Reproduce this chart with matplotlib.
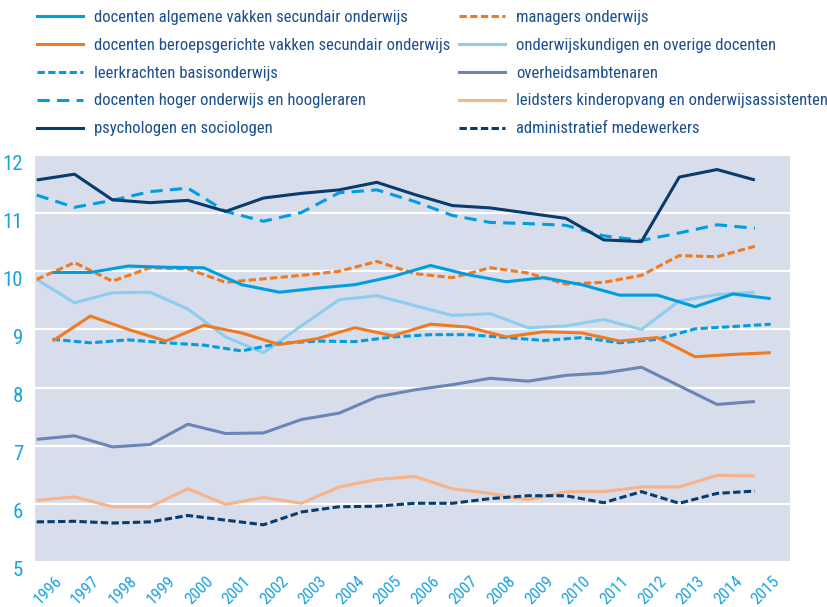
import matplotlib
matplotlib.use('Agg')
import matplotlib.pyplot as plt
from matplotlib import font_manager as fm
from matplotlib.lines import Line2D
from matplotlib.transforms import ScaledTranslation
import numpy as np


def pick_narrow_font():
    prefs = ['liberationsansnarrow', 'robotocondensed', 'opensanscondensed',
             'notosans-condensed', 'notosanscondensed', 'dejavusanscondensed']
    found = {}
    for f in fm.fontManager.ttflist:
        fn = f.fname.lower().replace('_', '').replace(' ', '')
        base = fn.split('/')[-1]
        if any(k in base for k in ('bold', 'italic', 'oblique', 'light', 'thin', 'medium', 'black', 'semi', 'extra')):
            continue
        for p in prefs:
            if p in base:
                found.setdefault(p, f.fname)
    for p in prefs:
        if p in found:
            return fm.FontProperties(fname=found[p])
    return fm.FontProperties(family='DejaVu Sans', stretch='condensed')


FP = pick_narrow_font()

years = list(range(1996, 2016))
year_labels = [str(y) for y in years]
y_ticks = [5, 6, 7, 8, 9, 10, 11, 12]

labels = [
    'docenten algemene vakken secundair onderwijs',
    'docenten beroepsgerichte vakken secundair onderwijs',
    'leerkrachten basisonderwijs',
    'docenten hoger onderwijs en hoogleraren',
    'psychologen en sociologen',
    'managers onderwijs',
    'onderwijskundigen en overige docenten',
    'overheidsambtenaren',
    'leidsters kinderopvang en onderwijsassistenten',
    'administratief medewerkers',
]

algemene = [9.98, 9.98, 10.09, 10.07, 10.06, 9.77, 9.64, 9.71, 9.77, 9.91,
            10.10, 9.94, 9.82, 9.89, 9.77, 9.59, 9.59, 9.39, 9.61, 9.53]
beroeps = [8.80, 9.23, 9.00, 8.80, 9.07, 8.94, 8.74, 8.84, 9.03, 8.89,
           9.09, 9.04, 8.87, 8.96, 8.94, 8.80, 8.86, 8.53, 8.57, 8.60]
leerkrachten = [8.83, 8.77, 8.82, 8.77, 8.73, 8.63, 8.76, 8.80, 8.79, 8.87,
                8.91, 8.91, 8.86, 8.81, 8.86, 8.77, 8.83, 9.01, 9.05, 9.09]
hoger = [11.31, 11.10, 11.22, 11.37, 11.43, 11.03, 10.86, 11.01, 11.35, 11.40,
         11.20, 10.96, 10.84, 10.82, 10.79, 10.61, 10.53, 10.66, 10.80, 10.74]
psychologen = [11.57, 11.67, 11.23, 11.18, 11.22, 11.03, 11.26, 11.34, 11.40, 11.53,
               11.32, 11.13, 11.09, 11.00, 10.91, 10.54, 10.51, 11.62, 11.75, 11.57]
managers = [9.86, 10.15, 9.83, 10.06, 10.04, 9.81, 9.87, 9.93, 10.00, 10.17,
            9.96, 9.89, 10.06, 9.97, 9.78, 9.81, 9.93, 10.27, 10.25, 10.43]
onderwijskundigen = [9.86, 9.46, 9.63, 9.64, 9.35, 8.87, 8.60, 9.06, 9.51, 9.58,
                     9.41, 9.24, 9.27, 9.03, 9.06, 9.17, 9.00, 9.49, 9.60, 9.64]
overheid = [7.11, 7.17, 6.98, 7.02, 7.37, 7.21, 7.22, 7.45, 7.56, 7.84,
            7.96, 8.05, 8.16, 8.11, 8.21, 8.25, 8.35, 8.03, 7.71, 7.76]
leidsters = [6.06, 6.12, 5.95, 5.95, 6.26, 5.99, 6.11, 6.01, 6.29, 6.42,
             6.47, 6.26, 6.18, 6.07, 6.21, 6.21, 6.29, 6.29, 6.49, 6.48]
administratief = [5.69, 5.70, 5.67, 5.69, 5.80, 5.72, 5.64, 5.86, 5.95, 5.96,
                  6.01, 6.01, 6.09, 6.14, 6.14, 6.02, 6.21, 6.01, 6.18, 6.22]

CYAN = '#009EE0'
ORANGE = '#F07A22'
NAVY = '#073C6D'
LIGHT = '#8ECDF0'
SLATE = '#6A86B6'
PEACH = '#F8B388'
BG = '#D7DDEA'
TXT = '#1D4F8E'
TICK = '#1AA3E0'

LW = 2.2
short_dash = (0, (2.4, 1.1))
long_dash = (0, (4.0, 2.4))

series = [
    (algemene, CYAN, '-', True),
    (beroeps, ORANGE, '-', True),
    (leerkrachten, CYAN, short_dash, True),
    (hoger, CYAN, long_dash, False),
    (psychologen, NAVY, '-', False),
    (managers, ORANGE, short_dash, False),
    (onderwijskundigen, LIGHT, '-', False),
    (overheid, SLATE, '-', False),
    (leidsters, PEACH, '-', False),
    (administratief, NAVY, short_dash, False),
]

fig = plt.figure(figsize=(8.28, 6.07), dpi=100)
ax = fig.add_axes([35 / 828, 45 / 607, 755 / 828, 407 / 607])
ax.set_facecolor(BG)

x = np.array(years, dtype=float)
draw_order = [6, 7, 8, 9, 2, 1, 5, 0, 3, 4]
for i in draw_order:
    data, col, ls, shifted = series[i]
    xs = x + 0.42 if shifted else x
    ax.plot(xs, data, color=col, ls=ls, lw=LW, solid_capstyle='butt',
            dash_capstyle='butt', zorder=3)

ax.set_xlim(1995.955, 2015.93)
ax.set_ylim(5, 12)

ax.set_yticks(y_ticks)
ax.set_yticklabels([str(v) for v in y_ticks])
ax.tick_params(axis='y', length=0, pad=8.5, labelcolor=TICK)
off = ScaledTranslation(0, -0.07, fig.dpi_scale_trans)
for lab in ax.get_yticklabels():
    lab.set_fontproperties(FP)
    lab.set_fontsize(15)
    lab.set_transform(lab.get_transform() + off)

ax.set_xticks(x + 0.74)
ax.set_xticklabels(year_labels, rotation=45, ha='right')
ax.tick_params(axis='x', length=0, pad=8, labelcolor=TICK)
for lab in ax.get_xticklabels():
    lab.set_fontproperties(FP)
    lab.set_fontsize(12)

ax.yaxis.grid(True, color='white', lw=1.6)
ax.set_axisbelow(True)
for s in ax.spines.values():
    s.set_visible(False)

handles = [Line2D([0], [0], color=c, ls=ls, lw=LW, dash_capstyle='butt')
           for (d, c, ls, sh) in series]

lp = FP.copy()
lp.set_size(12)
common = dict(frameon=False, prop=lp, labelcolor=TXT, borderpad=0,
              borderaxespad=0, handlelength=2.75, handletextpad=0.7,
              labelspacing=0.77, bbox_transform=fig.transFigure, loc='upper left')
leg1 = fig.legend(handles[:5], labels[:5], bbox_to_anchor=(37 / 828, 1 - 10 / 607), **common)
leg2 = fig.legend(handles[5:], labels[5:], bbox_to_anchor=(459 / 828, 1 - 10 / 607), **common)

fig.savefig('out.png', dpi=100)
